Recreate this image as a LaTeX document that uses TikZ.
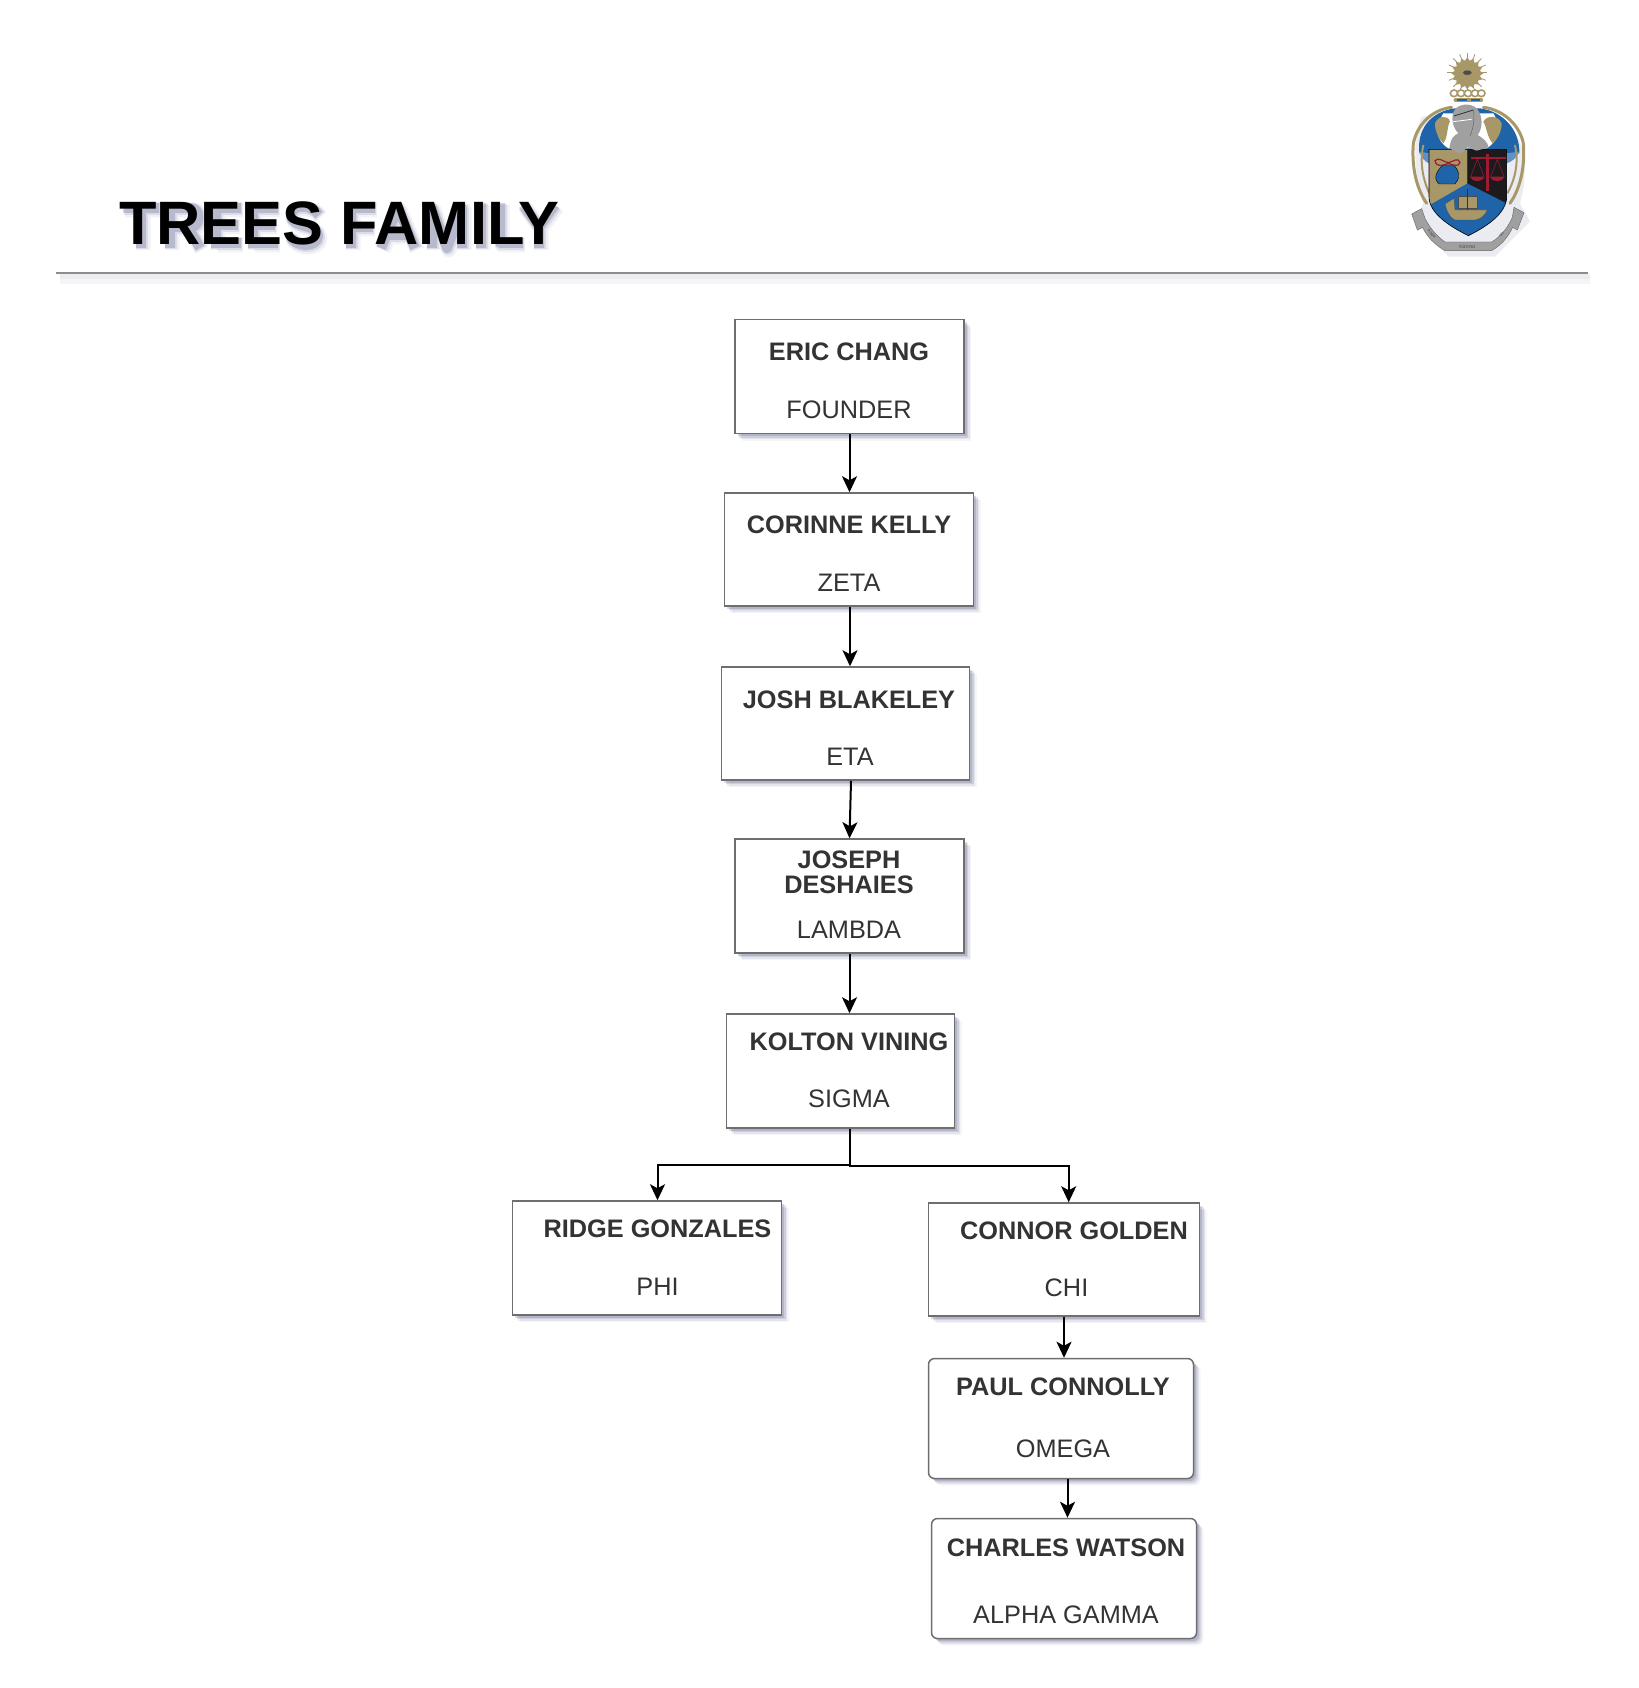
\documentclass[tikz,border=0pt]{standalone}
\usepackage{fontspec}
\setmainfont{Liberation Sans}
\usepackage{xcolor}
\usetikzlibrary{arrows.meta,shadows,shapes.geometric}
\definecolor{inktext}{HTML}{333333}
\definecolor{boxline}{HTML}{6E6E6E}
\definecolor{shadeblue}{HTML}{3A4272}
\definecolor{crestgold}{HTML}{A89868}
\definecolor{crestblue}{HTML}{1F63A8}
\definecolor{crestgray}{HTML}{A0A0A0}
\definecolor{crestred}{HTML}{9E1B32}
\definecolor{crestblack}{HTML}{1C1A1C}
\begin{document}
\begin{tikzpicture}[
  x=1pt,y=-1pt,
  softshadow/.style={
    drop shadow={shadow xshift=7pt,shadow yshift=-7pt,fill=shadeblue,opacity=.05},
    drop shadow={shadow xshift=5.5pt,shadow yshift=-5.5pt,fill=shadeblue,opacity=.09},
    drop shadow={shadow xshift=4pt,shadow yshift=-4pt,fill=shadeblue,opacity=.14},
    drop shadow={shadow xshift=2.5pt,shadow yshift=-2.5pt,fill=shadeblue,opacity=.18}},
  member/.style={rectangle,draw=boxline,fill=white,line width=1.5pt,inner sep=0pt,softshadow},
  roundmember/.style={member,rounded corners=6pt},
  person/.style={font=\fontsize{25.3}{25.3}\selectfont\bfseries,text=inktext,text height=19pt,text depth=0pt,inner sep=0pt},
  rank/.style={font=\fontsize{25.3}{25.3}\selectfont,text=inktext,text height=19pt,text depth=0pt,inner sep=0pt},
  link/.style={-{Stealth[length=16pt,width=15pt,inset=4pt]},line width=2pt,black}
]
\useasboundingbox (0,0) rectangle (1638,1688);

% heading, its shadow is drawn as thick strokes under the letters
\foreach \w/\s/\o in {15/5/.07,12/4/.12,10/3/.22}
  \draw[shift={(\s,\s)},shadeblue,opacity=\o,line width=\w pt,line join=round]
    (120,205) -- (156,205) (138,205) -- (138,245)
    (167,245) -- (167,205) -- (188,205) .. controls (198,205) and (198,224) .. (188,224) -- (167,224) (185,224) -- (197,245)
    (213,245) -- (213,205) -- (238,205) (213,222) -- (235,222) (213,240) -- (238,240)
    (250,245) -- (250,205) -- (275,205) (250,222) -- (272,222) (250,240) -- (275,240)
    (316,212) .. controls (308,200) and (288,202) .. (288,212) .. controls (288,226) and (315,220) .. (315,233) .. controls (315,245) and (292,245) .. (287,233)
    (348,245) -- (348,205) -- (372,205) (348,224) -- (370,224)
    (378,245) -- (395,205) -- (412,245) (385,232) -- (405,232)
    (429,245) -- (429,205) -- (444,245) -- (459,205) -- (459,245)
    (478,200) -- (478,245)
    (497,200) -- (497,240) -- (520,240)
    (520,202) -- (536,224) -- (552,202) (536,224) -- (536,245);
\node (heading) [font=\fontsize{61.3}{61.3}\selectfont\bfseries,text=black,anchor=base west,inner sep=0pt] at (119,245) {TREES FAMILY};
\fill[shadeblue,opacity=.05] (60,274) rectangle (1590,284);
\fill[shadeblue,opacity=.05] (60,274) rectangle (1590,279);
\draw[line width=1.5pt,black!45] (56,273) -- (1588,273);

% crest
\begin{scope}[shift={(1380,30)},x=.3333pt,y=-.3333pt]
\fill[shadeblue,opacity=.10] (125,260) .. controls (90,330) and (110,470) .. (130,520) -- (105,575) -- (205,680) -- (345,680) -- (450,575) -- (420,520) .. controls (445,430) and (450,300) .. (330,240) -- cycle;
% scroll
\fill[crestgray,draw=black!60,line width=.4pt] (95,552) -- (125,536) -- (135,565) .. controls (150,595) and (170,618) .. (195,636) -- (335,636) .. controls (365,618) and (385,590) .. (397,562) -- (402,532) -- (432,548) -- (412,600) -- (398,592) .. controls (385,620) and (365,645) .. (335,662) -- (195,662) .. controls (165,645) and (140,620) .. (128,592) -- (112,600) -- cycle;
% mantling
\fill[crestblue] (225,235) .. controls (150,245) and (110,300) .. (118,370) -- (145,370) -- (385,370) -- (418,370) .. controls (420,300) and (370,245) .. (300,235) -- cycle;
\fill[white] (190,250) .. controls (165,290) and (165,330) .. (205,355) -- (320,355) .. controls (360,330) and (365,290) .. (340,250) -- cycle;
\fill[crestblue!70] (118,365) .. controls (125,385) and (135,395) .. (147,400) -- (147,370) -- cycle;
\fill[crestblue!70] (418,365) .. controls (410,385) and (395,395) .. (380,400) -- (380,370) -- cycle;
\draw[crestgold,line width=3pt,line cap=round] (215,232) .. controls (150,240) and (110,290) .. (100,340) .. controls (95,400) and (105,470) .. (140,520);
\draw[crestgold,line width=3pt,line cap=round] (310,232) .. controls (375,240) and (420,290) .. (430,340) .. controls (435,400) and (425,470) .. (390,520);
\draw[crestgold,line width=2pt] (130,345) .. controls (120,390) and (125,440) .. (148,490);
\draw[crestgold,line width=2pt] (405,345) .. controls (415,390) and (410,440) .. (382,490);
\fill[crestgold] (165,280) .. controls (175,255) and (205,255) .. (210,275) .. controls (200,290) and (205,320) .. (190,340) .. controls (175,325) and (165,305) .. (165,280) -- cycle;
\fill[crestgold] (365,280) .. controls (355,255) and (320,255) .. (310,275) .. controls (320,290) and (320,320) .. (338,340) .. controls (355,325) and (365,305) .. (365,280) -- cycle;
% sun and rays
\foreach \a in {0,22.5,...,337.5}
  \draw[crestgold,line width=.8pt] (262,128) -- ++(\a:60);
\node (sun) [star,star points=16,star point ratio=1.25,fill=crestgold,minimum size=32pt,inner sep=0pt] at (262,130) {};
\fill[black!70] (262,128) ellipse (13 and 7);
% chain and wreath
\foreach \cx in {222,243,264,285,304}
  \draw[crestgold,line width=1.6pt,fill=white] (\cx,190) ellipse (11 and 10);
\draw[crestgold,line width=3.6pt,line cap=round] (226,210) -- (304,210);
\draw[crestblue,line width=2.4pt,dash pattern=on 10pt off 4pt] (232,210) -- (300,210);
% shield
\begin{scope}
\clip (147,358) -- (380,358) -- (380,500) .. controls (380,550) and (320,590) .. (265,617) .. controls (210,590) and (147,550) .. (147,500) -- cycle;
\fill[crestblue] (140,350) rectangle (390,625);
\fill[crestgold] (140,350) -- (262,350) -- (262,460) -- (140,530) -- cycle;
\fill[crestblack] (262,350) -- (390,350) -- (390,525) -- (262,460) -- cycle;
\end{scope}
\draw[black,line width=.6pt] (147,358) -- (380,358) -- (380,500) .. controls (380,550) and (320,590) .. (265,617) .. controls (210,590) and (147,550) .. (147,500) -- cycle;
% helmet
\fill[crestgray] (208,355) .. controls (212,325) and (222,315) .. (235,310) .. controls (215,290) and (212,255) .. (225,238) .. controls (240,218) and (285,218) .. (297,245) .. controls (310,270) and (305,300) .. (293,315) .. controls (310,325) and (322,335) .. (326,352) -- (290,362) -- (262,352) -- (240,372) -- cycle;
\draw[black!80,line width=.8pt] (222,258) -- (280,240);
\draw[white,line width=.8pt] (220,275) -- (275,268);
\draw[black!60,line width=.5pt] (280,240) .. controls (285,265) and (280,295) .. (270,318);
% money bag
\fill[crestblue,draw=black,line width=.4pt] (190,405) .. controls (165,425) and (160,450) .. (178,462) -- (225,462) .. controls (240,450) and (240,420) .. (220,405) -- cycle;
\draw[crestred,line width=1.2pt] (165,392) .. controls (175,380) and (190,395) .. (205,398) .. controls (220,395) and (235,380) .. (240,398) .. controls (235,412) and (220,405) .. (205,400) .. controls (190,405) and (170,415) .. (165,392) -- cycle;
% scales
\draw[crestred,line width=1.8pt] (272,385) -- (378,385);
\draw[crestred,line width=2.4pt] (322,372) -- (322,482);
\draw[crestred,line width=.5pt] (292,388) -- (272,440) (292,388) -- (312,440) (352,388) -- (332,440) (352,388) -- (372,440);
\fill[crestred] (270,440) .. controls (275,458) and (308,458) .. (314,440) -- cycle;
\fill[crestred] (330,440) .. controls (335,458) and (368,458) .. (374,440) -- cycle;
% ship
\fill[crestgold,draw=black!70,line width=.3pt] (235,498) -- (290,498) -- (290,535) -- (235,535) -- cycle;
\draw[black!80,line width=.5pt] (262,478) -- (262,540);
\fill[crestgold,draw=black!70,line width=.3pt] (195,522) -- (222,505) -- (225,540) -- (322,540) .. controls (315,558) and (300,568) .. (285,570) -- (225,570) .. controls (205,560) and (200,540) .. (195,522) -- cycle;
% motto
\node (mottoleft) [font=\fontsize{4.5}{4.5}\selectfont,text=black!70,inner sep=0pt,rotate=-48] at (155,612) {Αλφα};
\node (mottomid) [font=\fontsize{5}{5}\selectfont,text=black!70,inner sep=0pt] at (262,650) {Κάππα};
\node (mottoright) [font=\fontsize{4.5}{4.5}\selectfont,text=black!70,inner sep=0pt,rotate=48] at (365,615) {Ψι};
\end{scope}

% family tree boxes
\node (eric) [member,minimum width=229pt,minimum height=114pt] at (849.5,376.5) {};
\node (corinne) [member,minimum width=249pt,minimum height=113pt] at (849,549.5) {};
\node (josh) [member,minimum width=248pt,minimum height=113pt] at (845.5,723.5) {};
\node (joseph) [member,minimum width=229pt,minimum height=114pt] at (849.5,896) {};
\node (kolton) [member,minimum width=228pt,minimum height=114pt] at (840.5,1071) {};
\node (ridge) [member,minimum width=269pt,minimum height=114pt] at (647,1258) {};
\node (connor) [member,minimum width=271pt,minimum height=113pt] at (1064,1259.5) {};
\node (paul) [roundmember,minimum width=265pt,minimum height=120pt] at (1061,1418.5) {};
\node (charles) [roundmember,minimum width=265pt,minimum height=120pt] at (1064,1578.5) {};

% names and ranks
\node (ericname) [person] at (849,351) {ERIC CHANG};
\node (ericrank) [rank] at (849,409) {FOUNDER};
\node (corinnename) [person] at (849,524) {CORINNE KELLY};
\node (corinnerank) [rank] at (849,582) {ZETA};
\node (joshname) [person] at (849,699) {JOSH BLAKELEY};
\node (joshrank) [rank] at (850,756) {ETA};
\node (josephname) [person,align=center,font=\fontsize{25.3}{25.5}\selectfont\bfseries] at (849,884) {JOSEPH\\DESHAIES};
\node (josephrank) [rank] at (849,929) {LAMBDA};
\node (koltonname) [person] at (849,1041) {KOLTON VINING};
\node (koltonrank) [rank] at (849,1098) {SIGMA};
\node (ridgename) [person] at (657.5,1228) {RIDGE GONZALES};
\node (ridgerank) [rank] at (657.5,1286) {PHI};
\node (connorname) [person] at (1074,1230) {CONNOR GOLDEN};
\node (connorrank) [rank] at (1066.5,1287) {CHI};
\node (paulname) [person] at (1063,1386) {PAUL CONNOLLY};
\node (paulrank) [rank] at (1063,1448) {OMEGA};
\node (charlesname) [person] at (1066,1547) {CHARLES WATSON};
\node (charlesrank) [rank] at (1066,1614) {ALPHA GAMMA};

% connectors
\draw[link] (eric.south) -- (corinne.north -| eric.south);
\draw[link] ([xshift=1pt]corinne.south) -- ([xshift=1pt]corinne.south |- josh.north);
\draw[link] ([xshift=5.5pt]josh.south) -- (joseph.north);
\draw[link] (joseph.south) -- (joseph.south |- kolton.north);
\draw[link] ([xshift=9.5pt]kolton.south) |- ([yshift=35pt]ridge.north -| ridgename.south) -- (ridgename.south |- ridge.north);
\draw[link,line width=1.6pt] ([xshift=9.5pt]kolton.south) |- ([xshift=4.7pt,yshift=36pt]connor.north) -- ([xshift=4.7pt]connor.north);
\draw[link] (connor.south) -- (connor.south |- paul.north);
\draw[link] ([xshift=6.5pt]paul.south) -- ([xshift=6.5pt]paul.south |- charles.north);
\end{tikzpicture}
\end{document}
